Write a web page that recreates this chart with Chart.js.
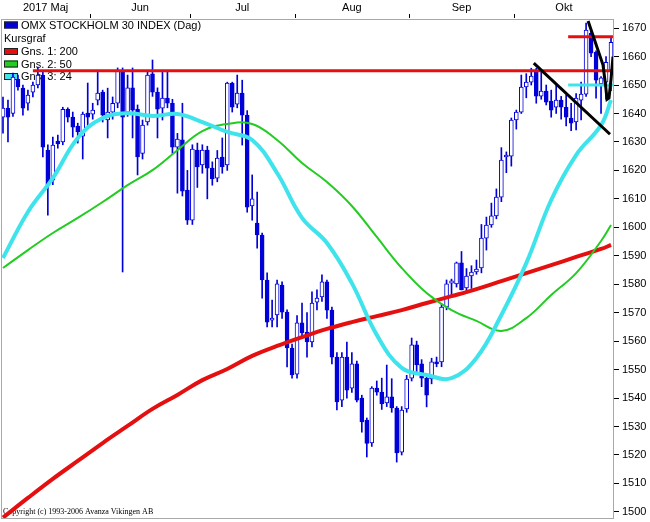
<!DOCTYPE html>
<html>
<head>
<meta charset="utf-8">
<script src="https://cdn.jsdelivr.net/npm/chart.js@4.4.7/dist/chart.umd.min.js"></script>
<style>
  html, body { margin: 0; padding: 0; background: #fff; }
  #wrap { width: 650px; height: 522px; }
</style>
</head>
<body>
<div id="wrap"><canvas id="chart" width="650" height="522"></canvas></div>
<script>
// month labels and trading days shown per month
const months = ['2017 Maj', 'Jun', 'Jul', 'Aug', 'Sep', 'Okt'];
const monthDays = [18, 20, 21, 23, 21, 20];

// daily candles, OMX Stockholm 30
const open = [
  1638.7, 1641.9, 1640.0, 1652.0, 1648.9, 1643.6, 1647.5, 1650.0, 1653.5, 1627.1,
  1616.6, 1630.3, 1630.0, 1641.5, 1638.7, 1635.6, 1632.0, 1640.1, 1639.8, 1644.7,
  1647.5, 1637.7, 1640.5, 1643.6, 1655.2, 1640.5, 1649.0, 1641.5, 1626.0, 1637.0,
  1653.9, 1647.5, 1641.9, 1645.4, 1643.6, 1628.2, 1630.7, 1613.1, 1602.5, 1627.1,
  1621.9, 1627.1, 1620.8, 1617.3, 1624.7, 1621.9, 1650.7, 1643.3, 1647.2, 1639.4,
  1607.5, 1601.5, 1597.3, 1581.5, 1567.4, 1569.2, 1579.7, 1570.2, 1557.6, 1548.4,
  1566.4, 1563.2, 1559.7, 1573.7, 1575.5, 1580.8, 1570.9, 1554.4, 1539.3, 1554.4,
  1543.5, 1552.0, 1540.0, 1532.3, 1524.2, 1543.5, 1542.1, 1538.3, 1540.4, 1536.5,
  1521.0, 1536.2, 1547.0, 1558.7, 1552.0, 1547.0, 1546.7, 1552.7, 1552.7, 1572.0,
  1580.4, 1580.1, 1587.5, 1578.7, 1582.9, 1584.3, 1585.7, 1596.2, 1600.8, 1604.0,
  1610.6, 1624.7, 1625.0, 1637.7, 1640.5, 1649.3, 1651.0, 1654.5, 1646.1, 1647.9,
  1644.4, 1642.2, 1644.7, 1642.2, 1638.4, 1637.0, 1644.7, 1646.8, 1668.2, 1661.6,
  1650.5, 1651.0, 1655.0
];
const high = [
  1645.8, 1644.7, 1654.2, 1653.5, 1650.0, 1648.2, 1651.0, 1656.3, 1654.5, 1629.0,
  1631.7, 1632.4, 1642.2, 1642.0, 1640.5, 1636.6, 1640.5, 1650.7, 1643.6, 1655.2,
  1648.2, 1648.9, 1645.8, 1656.0, 1656.0, 1653.5, 1656.0, 1643.0, 1637.7, 1655.2,
  1658.8, 1649.0, 1654.5, 1654.5, 1645.0, 1633.0, 1643.6, 1620.0, 1629.0, 1629.6,
  1629.0, 1628.5, 1623.0, 1627.0, 1631.4, 1651.0, 1651.0, 1653.5, 1651.7, 1641.0,
  1618.4, 1612.4, 1598.0, 1584.0, 1574.4, 1581.5, 1580.8, 1571.0, 1559.0, 1569.0,
  1573.4, 1570.0, 1577.3, 1578.0, 1583.3, 1581.5, 1572.0, 1556.0, 1556.0, 1559.7,
  1556.0, 1553.0, 1541.0, 1533.0, 1544.0, 1546.0, 1547.0, 1551.6, 1546.8, 1537.0,
  1537.0, 1548.0, 1561.1, 1560.0, 1553.5, 1548.0, 1554.0, 1554.4, 1573.0, 1581.5,
  1581.8, 1587.8, 1591.5, 1585.5, 1586.5, 1588.5, 1601.0, 1603.6, 1608.5, 1613.5,
  1628.0, 1626.5, 1638.4, 1641.2, 1653.5, 1654.0, 1655.9, 1655.9, 1655.0, 1650.0,
  1648.2, 1650.0, 1646.0, 1646.5, 1643.6, 1647.0, 1651.0, 1671.8, 1669.0, 1662.0,
  1653.0, 1660.0, 1666.5
];
const low = [
  1633.1, 1630.0, 1639.0, 1648.2, 1639.4, 1641.2, 1645.8, 1649.0, 1624.7, 1604.3,
  1615.0, 1627.8, 1629.0, 1637.0, 1631.7, 1629.6, 1624.0, 1635.2, 1638.0, 1643.0,
  1637.0, 1631.4, 1638.0, 1642.0, 1584.3, 1639.0, 1631.4, 1618.4, 1624.0, 1635.9,
  1646.0, 1631.4, 1637.7, 1642.0, 1626.0, 1612.0, 1611.0, 1601.0, 1601.0, 1614.0,
  1619.0, 1610.0, 1614.8, 1616.0, 1619.0, 1620.0, 1640.5, 1642.0, 1628.9, 1605.3,
  1602.5, 1592.7, 1575.1, 1565.0, 1565.0, 1565.0, 1568.0, 1550.9, 1547.0, 1547.0,
  1561.0, 1554.4, 1558.0, 1571.0, 1574.0, 1568.0, 1552.0, 1535.8, 1537.0, 1540.0,
  1542.0, 1538.6, 1528.0, 1519.3, 1523.0, 1541.0, 1536.0, 1537.0, 1535.0, 1517.5,
  1520.0, 1535.0, 1546.0, 1549.0, 1544.0, 1536.9, 1545.0, 1551.0, 1551.0, 1571.0,
  1576.2, 1579.0, 1578.0, 1577.0, 1578.5, 1583.5, 1584.0, 1592.0, 1600.0, 1603.0,
  1609.0, 1619.2, 1621.5, 1634.5, 1640.0, 1645.5, 1650.0, 1643.6, 1645.0, 1643.0,
  1638.7, 1640.0, 1638.0, 1635.6, 1634.0, 1634.2, 1637.7, 1646.0, 1660.0, 1645.4,
  1640.0, 1645.0, 1648.0
];
const close = [
  1641.9, 1638.7, 1652.8, 1649.3, 1641.9, 1646.5, 1650.0, 1653.5, 1628.2, 1614.8,
  1628.9, 1629.3, 1641.5, 1638.7, 1635.2, 1633.5, 1639.8, 1638.7, 1641.2, 1647.2,
  1639.4, 1640.5, 1643.6, 1655.2, 1638.7, 1649.0, 1641.2, 1624.7, 1635.9, 1653.5,
  1647.5, 1641.5, 1645.4, 1643.6, 1628.2, 1631.0, 1612.7, 1602.5, 1627.5, 1621.2,
  1627.1, 1620.8, 1617.0, 1624.3, 1621.2, 1650.7, 1642.2, 1647.2, 1639.4, 1607.1,
  1610.0, 1597.3, 1581.5, 1566.7, 1568.1, 1580.1, 1570.2, 1557.6, 1548.1, 1566.4,
  1562.9, 1559.7, 1573.4, 1575.1, 1580.8, 1570.9, 1554.4, 1538.6, 1554.4, 1542.8,
  1552.0, 1539.3, 1531.6, 1524.1, 1543.5, 1542.1, 1537.9, 1540.4, 1536.5, 1520.7,
  1535.8, 1546.7, 1558.7, 1551.6, 1547.0, 1541.0, 1552.7, 1552.0, 1572.0, 1580.1,
  1581.2, 1587.5, 1578.0, 1582.9, 1584.3, 1585.3, 1596.2, 1600.8, 1604.0, 1610.6,
  1623.6, 1625.0, 1637.7, 1640.5, 1649.3, 1651.0, 1653.1, 1646.1, 1647.9, 1644.0,
  1641.2, 1644.7, 1642.2, 1638.7, 1636.6, 1645.4, 1646.8, 1669.3, 1661.2, 1651.7,
  1652.5, 1658.0, 1665.0
];

// moving averages read at every fifth trading day
const maDay = [0, 5, 10, 15, 20, 25, 30, 35, 40, 45, 50, 55, 60, 65, 70, 75, 80, 85, 90, 95, 100, 105, 110, 115, 120, 122];
const ma200 = [1498.0, 1504.9, 1511.6, 1517.9, 1524.2, 1530.2, 1536.2, 1541.1, 1546.3, 1550.2, 1554.8, 1558.3, 1561.4,
  1564.3, 1566.7, 1568.8, 1570.9, 1573.4, 1575.8, 1578.3, 1581.1, 1583.9, 1586.7, 1589.6, 1592.4, 1593.8];
const ma50 = [1585.7, 1592.0, 1598.0, 1603.3, 1608.9, 1614.8, 1620.1, 1627.1, 1633.8, 1636.3, 1636.3, 1630.7, 1622.6,
  1615.9, 1607.5, 1596.6, 1585.7, 1576.9, 1570.9, 1567.1, 1563.6, 1568.1, 1576.2, 1583.9, 1595.2, 1600.8];
const ma24 = [1589.2, 1605.4, 1617.3, 1631.4, 1638.4, 1640.1, 1639.1, 1639.8, 1637.0, 1633.5, 1630.7, 1619.1, 1603.3,
  1594.5, 1580.4, 1562.2, 1550.6, 1548.1, 1547.0, 1554.1, 1569.2, 1587.4, 1609.6, 1625.4, 1635.9, 1644.7];

// hand drawn lines (day, level)
const resistance = [[6.0, 1655], [122.6, 1655]];
const topLevel = [[113.4, 1667], [122.6, 1667]];
const supportLevel = [[113.4, 1650], [122.5, 1650]];
const trendDown = [[106.5, 1657.7], [121.8, 1632.7]];
const trendSteep = [[117.4, 1672.5], [120.4, 1657], [120.9, 1650], [121.2, 1645], [121.6, 1645.5], [122.0, 1652], [122.4, 1660]];

const legendLabels = ['OMX STOCKHOLM 30 INDEX (Dag)', 'Kursgraf', 'Gns. 1: 200', 'Gns. 2: 50', 'Gns. 3: 24'];
const copyright = 'Copyright (c) 1993-2006 Avanza Vikingen AB';

const BLUE = '#0000d8';
const RED = '#e41010';
const GREEN = '#22cc22';
const CYAN = '#3fe3ec';

const days = open.map((_, i) => i);
const wicks = days.map(i => ({ x: i, y: [low[i], high[i]] }));
const bodies = days.map(i => ({ x: i, y: [open[i], close[i]] }));
const bodyFill = days.map(i => close[i] >= open[i] ? '#ffffff' : BLUE);
const pts = arr => arr.map(p => ({ x: p[0], y: p[1] }));
const maPts = arr => arr.map((v, k) => ({ x: maDay[k], y: v }));

const frameAndText = {
  id: 'frameAndText',
  beforeDatasetsDraw(chart) {
    const { ctx } = chart;
    ctx.save();
    // legend box sits under the data, as in the original
    const colors = [BLUE, null, RED, GREEN, CYAN];
    const rows = [25, 38.5, 51.5, 64, 76.5];
    ctx.font = '11px "Liberation Sans", Arial, sans-serif';
    ctx.textBaseline = 'middle';
    ctx.fillStyle = '#000';
    legendLabels.forEach((t, k) => {
      const yy = rows[k];
      if (colors[k]) {
        ctx.fillStyle = colors[k];
        ctx.fillRect(4, yy - 3.5, 14, 7);
        ctx.strokeStyle = '#202020';
        ctx.lineWidth = 1;
        ctx.strokeRect(4.5, yy - 3, 13, 6);
        ctx.fillStyle = '#000';
        ctx.fillText(t, 21, yy + 0.5);
      } else {
        ctx.fillText(t, 4, yy + 0.5);
      }
    });
    ctx.font = '8px "Liberation Serif", "Times New Roman", serif';
    ctx.textBaseline = 'alphabetic';
    ctx.fillText(copyright, 3, 514);
    ctx.restore();
  },
  afterDraw(chart) {
    const { ctx, chartArea: a, scales: { x } } = chart;
    ctx.save();
    ctx.strokeStyle = '#a8a8a8';
    ctx.lineWidth = 1;
    ctx.strokeRect(Math.round(a.left) + 0.5, Math.round(a.top) + 0.5,
      Math.round(a.right - a.left) - 1, Math.round(a.bottom - a.top) - 1);
    // month ticks and labels on top
    ctx.font = '11px "Liberation Sans", Arial, sans-serif';
    ctx.fillStyle = '#000';
    ctx.textAlign = 'center';
    ctx.textBaseline = 'alphabetic';
    let start = 0;
    months.forEach((m, k) => {
      const left = k === 0 ? a.left : x.getPixelForValue(start - 0.5);
      const end = start + monthDays[k];
      const right = k === months.length - 1 ? a.right : x.getPixelForValue(end - 0.5);
      if (k > 0) {
        const px = Math.round(left) + 0.5;
        ctx.strokeStyle = '#000';
        ctx.beginPath();
        ctx.moveTo(px, 14);
        ctx.lineTo(px, 18);
        ctx.stroke();
      }
      ctx.fillText(m, (left + right) / 2, 11);
      start = end;
    });
    ctx.restore();
  }
};

new Chart(document.getElementById('chart'), {
  type: 'bar',
  data: {
    datasets: [
      { type: 'line', data: pts(trendSteep), borderColor: '#000', borderWidth: 3, pointRadius: 0, order: 0 },
      { type: 'line', data: pts(trendDown), borderColor: '#000', borderWidth: 3, pointRadius: 0, order: 0 },
      { type: 'line', data: pts(topLevel), borderColor: RED, borderWidth: 3, pointRadius: 0, order: 1 },
      { type: 'line', data: pts(supportLevel), borderColor: CYAN, borderWidth: 3, pointRadius: 0, order: 1 },
      { type: 'line', data: pts(resistance), borderColor: RED, borderWidth: 3, pointRadius: 0, order: 1 },
      { type: 'line', data: maPts(ma24), borderColor: CYAN, borderWidth: 4, pointRadius: 0, tension: 0.4, order: 2 },
      { type: 'line', data: maPts(ma50), borderColor: GREEN, borderWidth: 2, pointRadius: 0, tension: 0.4, order: 3 },
      { type: 'line', data: maPts(ma200), borderColor: RED, borderWidth: 4, pointRadius: 0, tension: 0.4, order: 4 },
      { type: 'bar', data: bodies, backgroundColor: bodyFill, borderColor: BLUE, borderWidth: 1,
        borderSkipped: false, barThickness: 4, minBarLength: 2, grouped: false, order: 5 },
      { type: 'bar', data: wicks, backgroundColor: BLUE, borderWidth: 0,
        barThickness: 1, grouped: false, order: 6 }
    ]
  },
  options: {
    responsive: false,
    animation: false,
    layout: { padding: { top: 19, left: 1, right: 0, bottom: 3 } },
    plugins: { legend: { display: false }, tooltip: { enabled: false } },
    scales: {
      x: { type: 'linear', min: -0.4, max: 122.6, offset: false, display: false },
      y: {
        position: 'right',
        min: 1497.5,
        max: 1673.2,
        afterFit(scale) { scale.width = 36; scale.paddingTop = 0; scale.paddingBottom = 0; },
        border: { display: false },
        grid: { drawOnChartArea: false, tickLength: 5, color: '#000' },
        ticks: {
          stepSize: 10, includeBounds: false, padding: 3, color: '#000',
          font: { family: '"Liberation Sans", Arial, sans-serif', size: 11 },
          callback: v => String(v)
        }
      }
    }
  },
  plugins: [frameAndText]
});
</script>
</body>
</html>
